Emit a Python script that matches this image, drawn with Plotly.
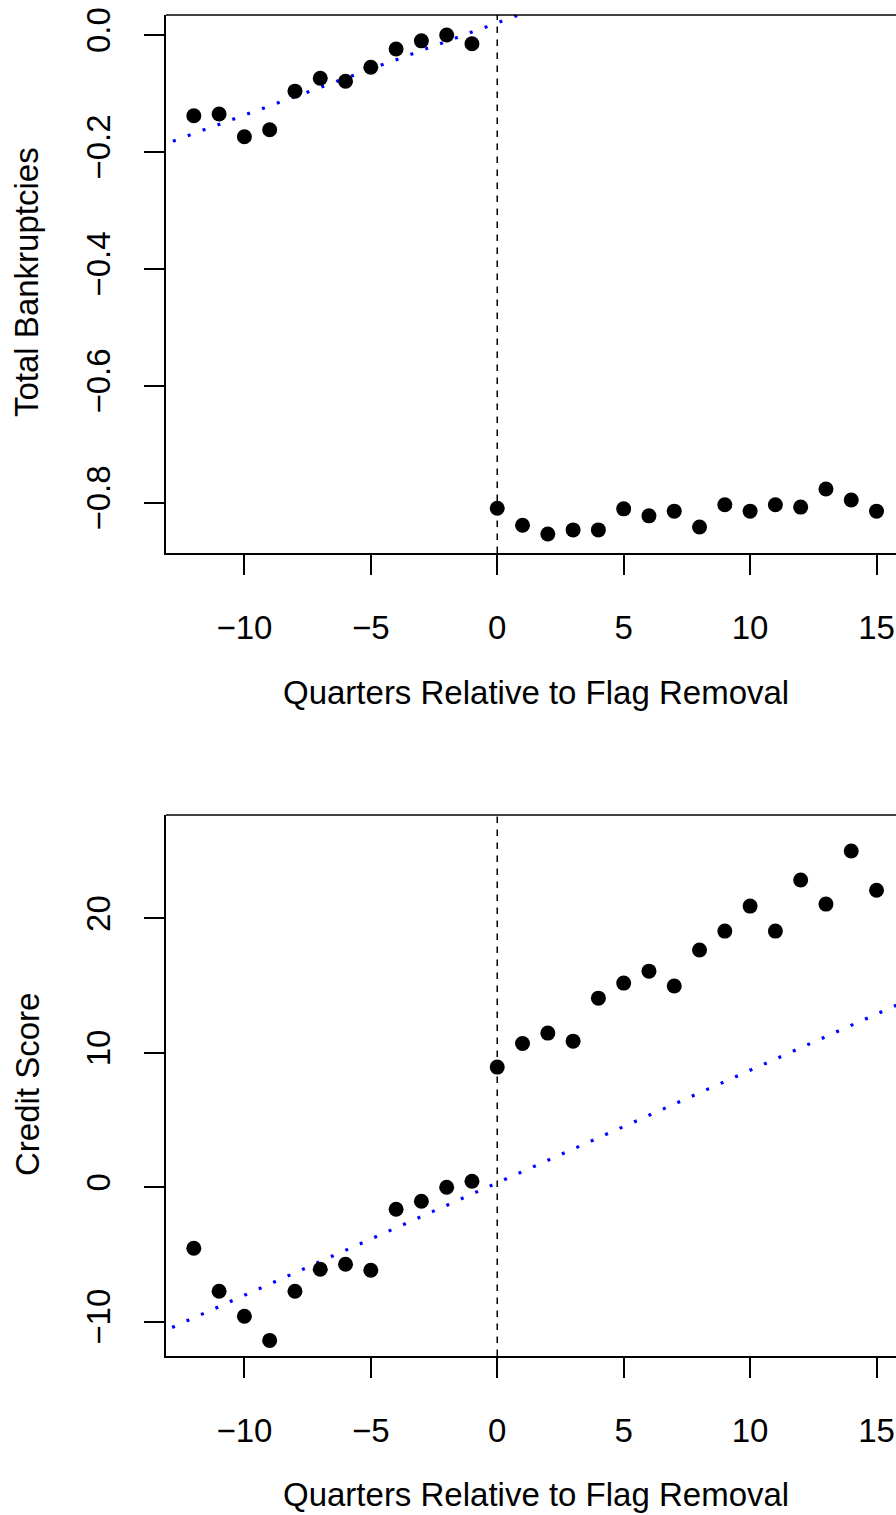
import plotly.graph_objects as go

quarters = [-12, -11, -10, -9, -8, -7, -6, -5, -4, -3, -2, -1,
            0, 1, 2, 3, 4, 5, 6, 7, 8, 9, 10, 11, 12, 13, 14, 15]
bankruptcies = [-0.138, -0.135, -0.174, -0.162, -0.096, -0.074, -0.079, -0.055,
                -0.024, -0.010, 0.000, -0.015,
                -0.809, -0.838, -0.853, -0.846, -0.846, -0.810, -0.822, -0.814,
                -0.841, -0.803, -0.814, -0.803, -0.807, -0.776, -0.795, -0.814]
credit_score = [-4.54, -7.74, -9.6, -11.4, -7.74, -6.1, -5.73, -6.18,
                -1.64, -1.04, 0.0, 0.45,
                8.94, 10.7, 11.47, 10.87, 14.07, 15.19, 16.08, 14.97,
                17.65, 19.06, 20.92, 19.06, 22.86, 21.07, 25.02, 22.1]

fit_x = [-14, 17]
fit_top = [-0.2, 0.289]
fit_bottom = [-11.39, 14.56]

x_ticks = [-10, -5, 0, 5, 10, 15]
x_ticktext = ["\u221210", "\u22125", "0", "5", "10", "15"]
top_ticks = [0.0, -0.2, -0.4, -0.6, -0.8]
top_ticktext = ["0.0", "\u22120.2", "\u22120.4", "\u22120.6", "\u22120.8"]
bot_ticks = [-10, 0, 10, 20]
bot_ticktext = ["\u221210", "0", "10", "20"]

x_label = "Quarters Relative to Flag Removal"
top_label = "Total Bankruptcies"
bot_label = "Credit Score"

W, H = 896, 1515
FONT = "Liberation Sans, Arial, sans-serif"
FS = 33

def px(x):
    return x / W

def py(y):
    return 1 - y / H

fig = go.Figure()

# top panel
fig.add_trace(go.Scatter(x=fit_x, y=fit_top, mode="lines", xaxis="x", yaxis="y",
                         line=dict(color="#0000ff", width=3.2, dash="3px,12.8px"),
                         hoverinfo="skip", showlegend=False))
fig.add_trace(go.Scatter(x=quarters, y=bankruptcies, mode="markers", xaxis="x", yaxis="y",
                         marker=dict(color="black", size=15, line=dict(width=0)),
                         showlegend=False))
# bottom panel
fig.add_trace(go.Scatter(x=fit_x, y=fit_bottom, mode="lines", xaxis="x2", yaxis="y2",
                         line=dict(color="#0000ff", width=3.2, dash="3px,12.8px"),
                         hoverinfo="skip", showlegend=False))
fig.add_trace(go.Scatter(x=quarters, y=credit_score, mode="markers", xaxis="x2", yaxis="y2",
                         marker=dict(color="black", size=15, line=dict(width=0)),
                         showlegend=False))

xrange = [-13.10, 15.77]
common_x = dict(range=xrange, showgrid=False, zeroline=False, showline=True,
                linecolor="black", linewidth=1.5, ticks="outside", ticklen=20,
                tickwidth=1.5, tickcolor="black", tickvals=x_ticks, ticktext=x_ticktext,
                tickfont=dict(family=FONT, size=FS, color="black"),
                domain=[px(166), 1.0], ticklabelstandoff=25, automargin=False)
common_y = dict(showgrid=False, zeroline=False, showline=True, linecolor="black",
                linewidth=1.5, ticks="outside", ticklen=20, tickwidth=1.5,
                tickcolor="black", tickangle=-90,
                tickfont=dict(family=FONT, size=FS, color="black"),
                ticklabelstandoff=21, automargin=False)

fig.update_layout(
    template="none",
    width=W, height=H,
    margin=dict(l=0, r=0, t=0, b=0, autoexpand=False),
    paper_bgcolor="white", plot_bgcolor="white",
    xaxis=dict(**common_x, anchor="y"),
    yaxis=dict(**common_y, range=[-0.8855, 0.0342], tickvals=top_ticks,
               ticktext=top_ticktext, domain=[py(553), py(15)], anchor="x"),
    xaxis2=dict(**common_x, anchor="y2"),
    yaxis2=dict(**common_y, range=[-12.56, 27.7], tickvals=bot_ticks,
                ticktext=bot_ticktext, domain=[py(1356), py(815)], anchor="x2"),
)

shapes = []
for xa, ya, ytop in [("x", "y", py(15)), ("x2", "y2", py(815))]:
    shapes.append(dict(type="line", xref=xa + " domain", yref="paper",
                       x0=0, x1=1, y0=ytop, y1=ytop,
                       line=dict(color="black", width=1.5)))
    shapes.append(dict(type="line", xref=xa, yref=ya + " domain",
                       x0=0, x1=0, y0=0, y1=1,
                       line=dict(color="black", width=1.5, dash="6.5px,6.5px")))
fig.update_layout(shapes=shapes)

ann = []
for cy in [692, 1494]:
    ann.append(dict(text=x_label, x=px(535.5), y=py(cy), xref="paper", yref="paper",
                    showarrow=False, xanchor="center", yanchor="middle",
                    font=dict(family=FONT, size=FS, color="black")))
for text, cy in [(top_label, 282), (bot_label, 1085)]:
    ann.append(dict(text=text, x=px(27), y=py(cy), xref="paper", yref="paper",
                    showarrow=False, xanchor="center", yanchor="middle", textangle=-90,
                    font=dict(family=FONT, size=FS, color="black")))
fig.update_layout(annotations=ann)

fig.write_html("out.html")
